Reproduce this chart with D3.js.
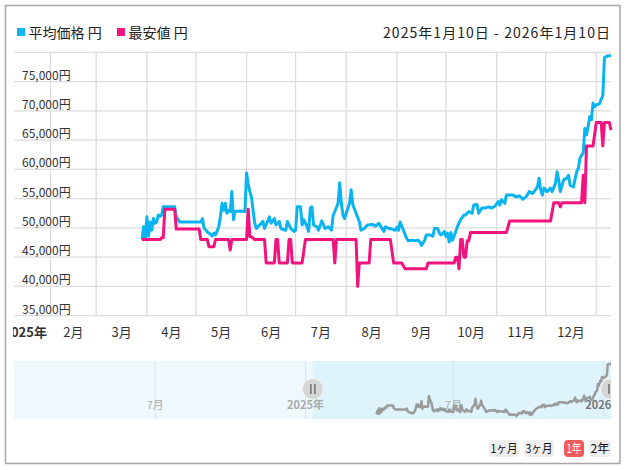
<!DOCTYPE html>
<html><head><meta charset="utf-8">
<script src="https://cdn.jsdelivr.net/npm/d3@7/dist/d3.min.js"></script>
<style>
html,body{margin:0;padding:0;background:#fff;}
svg{display:block;font-family:"Noto Sans CJK JP","Noto Sans",sans-serif;}
</style></head><body>
<svg id="c" width="626" height="470"></svg>
<script>
const seriesNames = ["平均価格 円", "最安値 円"];
const seriesColors = ["#0ab4f0", "#f2137e"];
const dateRangeLabel = "2025年1月10日 - 2026年1月10日";
const yTickValues = [35000, 40000, 45000, 50000, 55000, 60000, 65000, 70000, 75000];
const monthTickLabels = ["2025年", "2月", "3月", "4月", "5月", "6月", "7月", "8月", "9月", "10月", "11月", "12月"];
const navTickLabels = ["7月", "2025年", "7月", "2026年"];
const rangeButtons = ["1ヶ月", "3ヶ月", "1年", "2年"];

const avgPrice = [
["2025-03-29",48000],["2025-03-30",50200],["2025-03-31",48300],["2025-04-01",51900],["2025-04-02",48600],
["2025-04-03",51000],["2025-04-04",49600],["2025-04-05",51600],["2025-04-06",50800],["2025-04-07",51000],
["2025-04-08",52200],["2025-04-09",52000],["2025-04-10",52200],["2025-04-11",53600],["2025-04-18",53600],
["2025-04-19",51900],["2025-04-21",51000],["2025-05-03",51000],["2025-05-04",51000],["2025-05-05",51600],
["2025-05-06",50000],["2025-05-08",49300],["2025-05-10",48900],["2025-05-11",48600],["2025-05-12",49100],
["2025-05-13",48800],["2025-05-14",49500],["2025-05-15",50200],["2025-05-16",52000],["2025-05-17",54200],
["2025-05-18",53000],["2025-05-19",54200],["2025-05-20",52500],["2025-05-21",53000],["2025-05-22",52800],
["2025-05-23",56200],["2025-05-24",51400],["2025-05-25",52800],["2025-05-28",52900],["2025-05-31",52800],
["2025-06-01",59400],["2025-06-02",57500],["2025-06-03",56200],["2025-06-04",55300],["2025-06-05",53000],
["2025-06-06",50800],["2025-06-07",49900],["2025-06-09",50500],["2025-06-11",51100],["2025-06-12",49900],
["2025-06-15",51900],["2025-06-16",50800],["2025-06-18",51600],["2025-06-19",50500],["2025-06-21",51100],
["2025-06-22",49900],["2025-06-25",49600],["2025-06-26",51100],["2025-06-28",49900],["2025-06-30",49400],
["2025-07-01",49600],["2025-07-02",53600],["2025-07-04",53600],["2025-07-05",50500],["2025-07-06",51400],
["2025-07-08",50200],["2025-07-09",49400],["2025-07-10",53400],["2025-07-11",53600],["2025-07-12",50500],
["2025-07-14",50200],["2025-07-15",49600],["2025-07-17",51200],["2025-07-19",49900],["2025-07-21",50200],
["2025-07-23",49600],["2025-07-24",52200],["2025-07-25",52800],["2025-07-27",54200],["2025-07-28",57700],
["2025-07-29",54200],["2025-07-30",52200],["2025-07-31",51600],["2025-08-02",53400],["2025-08-03",54200],
["2025-08-04",56500],["2025-08-05",54000],["2025-08-07",52500],["2025-08-09",51100],["2025-08-10",49600],
["2025-08-12",49900],["2025-08-14",50500],["2025-08-17",50600],["2025-08-19",50300],["2025-08-21",50800],
["2025-08-22",50300],["2025-08-24",49400],["2025-08-25",50200],["2025-08-27",49900],["2025-08-29",49800],
["2025-08-31",49600],["2025-09-01",50100],["2025-09-02",49600],["2025-09-03",51000],["2025-09-05",49600],
["2025-09-07",48200],["2025-09-08",47800],["2025-09-10",47900],["2025-09-12",47800],["2025-09-14",47900],
["2025-09-15",47600],["2025-09-16",47000],["2025-09-18",47900],["2025-09-19",48800],["2025-09-21",48800],
["2025-09-23",48600],["2025-09-24",49900],["2025-09-26",49900],["2025-09-27",49100],["2025-09-28",48800],
["2025-09-30",49400],["2025-10-01",48500],["2025-10-02",49100],["2025-10-03",47600],["2025-10-04",49200],
["2025-10-05",47900],["2025-10-07",49400],["2025-10-08",50200],["2025-10-10",51400],["2025-10-12",52200],
["2025-10-13",52200],["2025-10-15",52800],["2025-10-17",52500],["2025-10-18",53900],["2025-10-20",54000],
["2025-10-21",52500],["2025-10-23",53400],["2025-10-25",53400],["2025-10-27",53600],["2025-10-29",53400],
["2025-10-31",53700],["2025-11-02",54500],["2025-11-03",53900],["2025-11-04",54800],["2025-11-06",54200],
["2025-11-07",55600],["2025-11-09",55600],["2025-11-11",55600],["2025-11-13",55300],["2025-11-15",55500],
["2025-11-17",54900],["2025-11-19",55300],["2025-11-21",56200],["2025-11-23",55900],["2025-11-24",56200],
["2025-11-26",57000],["2025-11-27",58500],["2025-11-28",56500],["2025-11-29",55600],["2025-11-30",56800],
["2025-12-02",56200],["2025-12-04",56800],["2025-12-05",56200],["2025-12-07",57600],["2025-12-08",59600],
["2025-12-09",58200],["2025-12-10",56200],["2025-12-12",58200],["2025-12-14",58500],["2025-12-15",59000],
["2025-12-16",57300],["2025-12-18",57000],["2025-12-20",59600],["2025-12-21",60200],["2025-12-22",61900],
["2025-12-23",62400],["2025-12-24",62800],["2025-12-25",67000],["2025-12-26",65900],["2025-12-27",67300],
["2025-12-28",69000],["2025-12-29",68500],["2025-12-30",71300],["2025-12-31",70700],["2026-01-01",71000],
["2026-01-03",71200],["2026-01-04",72000],["2026-01-05",72600],["2026-01-06",79100],["2026-01-08",79400],
["2026-01-10",79400]
];

const minPrice = [
["2025-03-29",48000],["2025-04-09",48000],["2025-04-10",48300],["2025-04-11",48300],["2025-04-12",53200],
["2025-04-18",53200],["2025-04-19",49800],["2025-05-03",49800],["2025-05-04",48000],["2025-05-08",48000],
["2025-05-09",46800],["2025-05-12",46800],["2025-05-13",48000],["2025-05-21",48000],["2025-05-22",46200],
["2025-05-23",48000],["2025-06-01",48000],["2025-06-02",53200],["2025-06-03",48500],["2025-06-04",48500],
["2025-06-06",48000],["2025-06-12",48000],["2025-06-13",44000],["2025-06-18",44000],["2025-06-19",48000],
["2025-06-20",48000],["2025-06-21",44000],["2025-06-26",44000],["2025-06-27",48000],["2025-06-28",48000],
["2025-06-29",44000],["2025-07-05",44000],["2025-07-07",48000],["2025-07-24",48000],["2025-07-25",44000],
["2025-07-26",48000],["2025-08-07",48000],["2025-08-08",40000],["2025-08-09",44000],["2025-08-15",44000],
["2025-08-16",48000],["2025-08-28",48000],["2025-08-30",44000],["2025-09-04",44000],["2025-09-06",43000],
["2025-09-19",43000],["2025-09-20",44000],["2025-10-06",44000],["2025-10-07",45000],["2025-10-08",45000],
["2025-10-09",43000],["2025-10-10",48000],["2025-10-11",48000],["2025-10-12",45000],["2025-10-13",45000],
["2025-10-14",47800],["2025-10-15",47800],["2025-10-16",49200],["2025-11-07",49200],["2025-11-09",51200],
["2025-12-04",51200],["2025-12-06",54300],["2025-12-09",54300],["2025-12-10",53600],["2025-12-11",54300],
["2025-12-23",54300],["2025-12-24",59000],["2025-12-25",54300],["2025-12-26",64000],["2025-12-30",64000],
["2026-01-01",68000],["2026-01-04",68000],["2026-01-05",64000],["2026-01-06",68000],["2026-01-09",68000],
["2026-01-10",66700]
];

const parse = d3.timeParse("%Y-%m-%d");
const avg = avgPrice.map(d => ({date: parse(d[0]), v: d[1]}));
const mn = minPrice.map(d => ({date: parse(d[0]), v: d[1]}));

const svg = d3.select("#c");
const defs = svg.append("defs");
defs.append("clipPath").attr("id","labClip").append("rect").attr("x",13).attr("y",0).attr("width",600).attr("height",470);
defs.append("clipPath").attr("id","navClip").append("rect").attr("x",14).attr("y",355).attr("width",597).attr("height",70);

// outer frame
svg.append("rect").attr("x",5.5).attr("y",5.5).attr("width",614.5).attr("height",458)
  .attr("fill","none").attr("stroke","#a6a6a6").attr("stroke-width",1.5);

// scales
const x = d3.scaleTime().domain([new Date(2025,0,10), new Date(2026,0,10)]).range([14.5, 611]);
const y = d3.scaleLinear().domain([35000, 80000]).range([315.7, 52.3]);

// gridlines
const gridColor = "#dcdcdc";
const monthStarts = d3.timeMonth.range(new Date(2025,1,1), new Date(2026,0,2));
svg.append("g").selectAll("line").data(monthStarts).join("line")
  .attr("x1", d => x(d)).attr("x2", d => x(d)).attr("y1", 52.3).attr("y2", 315.7)
  .attr("stroke", gridColor).attr("stroke-width", 1.3);
svg.append("g").selectAll("line").data(yTickValues.concat([80000])).join("line")
  .attr("x1", 14).attr("x2", 611).attr("y1", d => y(d)).attr("y2", d => y(d))
  .attr("stroke", gridColor).attr("stroke-width", 1.3);

// y labels
svg.append("g").selectAll("text").data(yTickValues).join("text")
  .attr("x", 22).attr("y", d => y(d) - 2)
  .attr("font-size", 12).attr("fill", "#333")
  .text(d => d3.format(",")(d) + "円");

// x labels at mid-month
const months = d3.timeMonth.range(new Date(2025,0,1), new Date(2025,11,2));
svg.append("g").attr("clip-path","url(#labClip)").selectAll("text").data(months).join("text")
  .attr("x", (d) => (x(d) + x(d3.timeMonth.offset(d,1))) / 2)
  .attr("y", 337)
  .attr("text-anchor", "middle")
  .attr("font-size", 13)
  .attr("font-weight", (d,i) => i === 0 ? "bold" : "normal")
  .attr("fill", "#333")
  .text((d,i) => monthTickLabels[i]);

// lines
const line = d3.line().x(d => x(d.date)).y(d => y(d.v));
svg.append("path").datum(avg).attr("d", line).attr("fill","none")
  .attr("stroke", seriesColors[0]).attr("stroke-width", 3).attr("stroke-linejoin","round");
svg.append("path").datum(mn).attr("d", line).attr("fill","none")
  .attr("stroke", seriesColors[1]).attr("stroke-width", 3).attr("stroke-linejoin","round");

// legend
const leg = svg.append("g");
[17, 117].forEach((lx, i) => {
  leg.append("rect").attr("x", lx).attr("y", 28).attr("width", 8).attr("height", 8).attr("fill", seriesColors[i]);
  leg.append("text").attr("x", lx + 11.5).attr("y", 37.5).attr("font-size", 14).attr("fill", "#222")
    .text(seriesNames[i]);
});
svg.append("text").attr("x", 383).attr("y", 37.5)
  .attr("font-size", 14).attr("fill", "#222")
  .attr("textLength", 227).attr("lengthAdjust", "spacing")
  .text(dateRangeLabel);

// navigator
const nx = d3.scaleTime().domain([new Date(2024,0,10), new Date(2026,0,10)]).range([14, 611]);
const ny = d3.scaleLinear().domain([d3.min(avg, d => d.v), d3.max(avg, d => d.v)]).range([416, 364]);
const nav = svg.append("g").attr("clip-path","url(#navClip)");
nav.append("rect").attr("x",14).attr("y",361).attr("width",597).attr("height",58).attr("fill","#eef8fd");
const selStart = nx(new Date(2025,0,10));
nav.append("rect").attr("x",selStart).attr("y",361).attr("width",611-selStart).attr("height",58).attr("fill","#def3fb");
const navTicks = [new Date(2024,6,1), new Date(2025,0,1), new Date(2025,6,1), new Date(2026,0,1)];
nav.selectAll("line.ng").data(navTicks).join("line")
  .attr("x1", d => nx(d)).attr("x2", d => nx(d)).attr("y1", 361).attr("y2", 419)
  .attr("stroke", "#d6e9f2").attr("stroke-width", 1);
nav.selectAll("text.nl").data(navTicks).join("text")
  .attr("x", d => nx(d)).attr("y", 409).attr("text-anchor","middle")
  .attr("font-size", 11).attr("fill", (d,i) => i === 3 ? "#777" : "#aaa")
  .attr("font-weight", (d,i) => i === 0 || i === 2 ? "normal" : "bold")
  .text((d,i) => navTickLabels[i]);
const nline = d3.line().x(d => nx(d.date)).y(d => ny(d.v));
nav.append("path").datum(avg).attr("d", nline).attr("fill","none")
  .attr("stroke","#9b9b9b").attr("stroke-width",2.5).attr("stroke-linejoin","round");
// handles
[selStart, 611].forEach(hx => {
  const h = nav.append("g");
  h.append("circle").attr("cx", hx).attr("cy", 389).attr("r", 10.5)
    .attr("fill", "#d6d6d6").attr("stroke", "#f4f4f4").attr("stroke-width", 1);
  [-2, 2].forEach(o => h.append("line").attr("x1", hx + o).attr("x2", hx + o)
    .attr("y1", 384).attr("y2", 394).attr("stroke", "#555").attr("stroke-width", 1.2));
});

// range buttons
const btnX = [504, 539, 574, 600];
const btnW = [30, 30, 20, 22];
const txtW = [27, 27, 15, 19];
rangeButtons.forEach((b, i) => {
  const sel = i === 2;
  svg.append("rect").attr("x", btnX[i] - btnW[i]/2).attr("y", 440).attr("width", btnW[i]).attr("height", 17)
    .attr("rx", 4).attr("fill", sel ? "#f05b5b" : "#eeeeee");
  svg.append("text").attr("x", btnX[i] - txtW[i]/2).attr("y", 453)
    .attr("textLength", txtW[i]).attr("lengthAdjust", "spacingAndGlyphs")
    .attr("font-size", 12).attr("fill", sel ? "#fff" : "#111").text(b);
});
</script>
</body></html>
